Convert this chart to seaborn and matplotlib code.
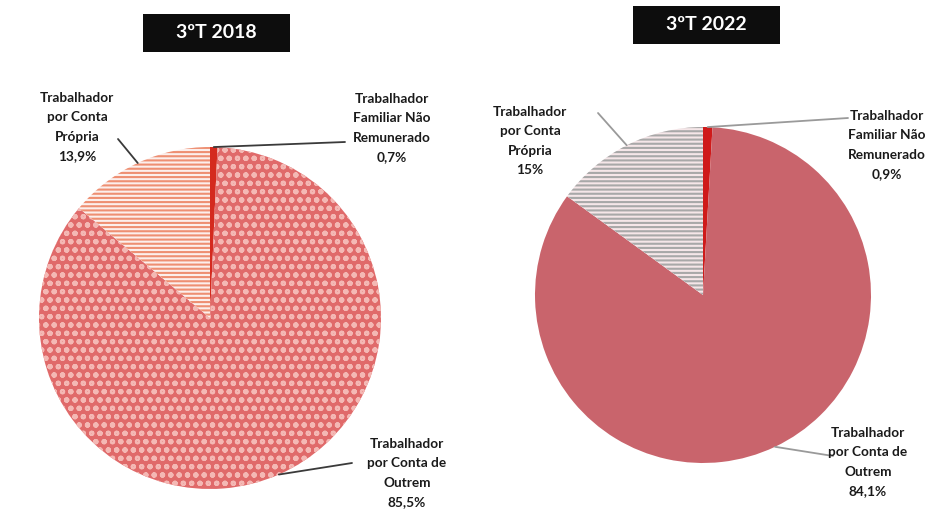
import numpy as np
import matplotlib
matplotlib.use("Agg")
import matplotlib.pyplot as plt
from matplotlib.patches import Rectangle
import seaborn as sns

sns.set_theme(style="white")
plt.rcParams['font.family'] = ['Lato', 'DejaVu Sans']
plt.rcParams['hatch.linewidth'] = 1.5

# ---- data ----
categories = ["Trabalhador\nFamiliar Não\nRemunerado",
              "Trabalhador\npor Conta de\nOutrem",
              "Trabalhador\npor Conta\nPrópria"]
titles = ["3ºT 2018", "3ºT 2022"]
values_2018 = [0.7, 85.5, 13.9]
values_2022 = [0.9, 84.1, 15.0]
labels_2018 = ["0,7%", "85,5%", "13,9%"]
labels_2022 = ["0,9%", "84,1%", "15%"]

W, H = 927, 512
fig = plt.figure(figsize=(W / 100, H / 100), dpi=100)
fig.patch.set_facecolor("white")


def fx(px):
    return px / W


def fy(py):
    return 1 - py / H


def pie_axes(cx, cy, r):
    ax = fig.add_axes([fx(cx - r), fy(cy + r), 2 * r / W, 2 * r / H])
    ax.axis("off")
    return ax


def title_box(cx, cy, w, h, text):
    fig.add_artist(Rectangle((fx(cx - w / 2), fy(cy + h / 2)), w / W, h / H,
                             transform=fig.transFigure, facecolor="#0d0d0d",
                             edgecolor="none"))
    fig.text(fx(cx), fy(cy), text, color="white", fontsize=14,
             fontweight="bold", ha="center", va="center")


def draw(ax, values, styles, line_color, text_pos, pcts):
    wedges, _ = ax.pie(values, startangle=90, counterclock=False, radius=1,
                       wedgeprops=dict(linewidth=0))
    ax.set_xlim(-1, 1)
    ax.set_ylim(-1, 1)
    ax.set_aspect("equal")
    for w, st in zip(wedges, styles):
        w.set_facecolor(st["fc"])
        if st.get("hatch"):
            w.set_hatch(st["hatch"])
            w.set_edgecolor(st["hc"])
        else:
            w.set_edgecolor(st["fc"])
    for w, cat, pct, (tx, ty, ax_px, ay_px) in zip(wedges, categories, pcts, text_pos):
        ang = np.deg2rad((w.theta1 + w.theta2) / 2)
        x, y = np.cos(ang), np.sin(ang)
        fig.text(fx(tx), fy(ty), cat + "\n" + pct, ha="center", va="center",
                 fontsize=9.8, fontweight="bold", color="#1a1a1a",
                 linespacing=1.75)
        ax.annotate("", xy=(x, y), xycoords="data",
                    xytext=(fx(ax_px), fy(ay_px)), textcoords="figure fraction",
                    arrowprops=dict(arrowstyle="-", color=line_color, lw=1.3,
                                    shrinkA=0, shrinkB=0))


# ---- left pie (2018) ----
ax1 = pie_axes(210, 318, 171)
styles_2018 = [
    dict(fc="#d42a1e"),
    dict(fc="#e06a6a", hatch="oo", hc="#f4b8b4"),
    dict(fc="#fcefec", hatch="----", hc="#ee8f72"),
]
draw(ax1, values_2018, styles_2018, "#3a3a3a",
     [(392, 128, 345, 142), (407, 473, 352, 463), (77, 127, 118, 139)],
     labels_2018)
title_box(216, 33, 147, 38, titles[0])

# ---- right pie (2022) ----
ax2 = pie_axes(703, 295, 168)
styles_2022 = [
    dict(fc="#cf1a1a"),
    dict(fc="#c9646c"),
    dict(fc="#f5e6e8", hatch="----", hc="#a8a8a8"),
]
draw(ax2, values_2022, styles_2022, "#9a9a9a",
     [(887, 145, 848, 118), (868, 462, 833, 456), (530, 141, 598, 113)],
     labels_2022)
title_box(706, 25, 147, 38, titles[1])

fig.savefig("out.png", dpi=100, facecolor="white")
